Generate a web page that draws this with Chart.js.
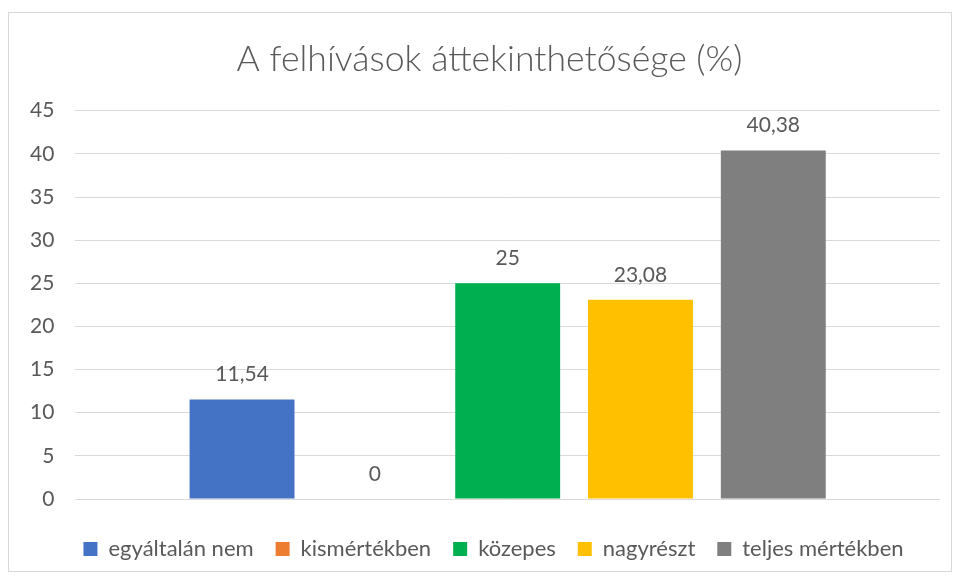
<!DOCTYPE html>
<html>
<head>
<meta charset="utf-8">
<script src="https://cdn.jsdelivr.net/npm/chart.js@4"></script>
<style>
  html, body { margin: 0; padding: 0; background: #fff; }
  #frame {
    position: absolute; left: 8px; top: 12px;
    width: 942px; height: 558px;
    border: 1px solid #D9D9D9;
  }
</style>
</head>
<body>
<div id="frame"><canvas id="chart"></canvas></div>
<script>
// answer categories (one dataset each, as in the legend)
const seriesNames = ["egyáltalán nem", "kismértékben", "közepes", "nagyrészt", "teljes mértékben"];
const seriesValues = [11.54, 0, 25, 23.08, 40.38];
const seriesColors = ["#4472C4", "#ED7D31", "#00B050", "#FFC000", "#7F7F7F"];
const yTicks = [0, 5, 10, 15, 20, 25, 30, 35, 40, 45];

const fontFamily = "Lato, 'Open Sans', sans-serif";
const textColor = "#595959";

// value labels above each bar, Hungarian decimal comma
const valueLabels = {
    id: "valueLabels",
    afterDatasetsDraw(chart) {
        const ctx = chart.ctx;
        ctx.save();
        ctx.font = "21px " + fontFamily;
        ctx.fillStyle = textColor;
        ctx.textAlign = "center";
        ctx.textBaseline = "middle";
        chart.data.datasets.forEach((ds, i) => {
            const meta = chart.getDatasetMeta(i);
            meta.data.forEach((bar, j) => {
                const txt = String(ds.data[j]).replace(".", ",");
                ctx.fillText(txt, bar.x, bar.y - 25);
            });
        });
        ctx.restore();
    }
};

// Excel centres title and legend a bit right of the canvas middle
const nudgeBoxes = {
    id: "nudgeBoxes",
    afterLayout(chart) {
        if (chart.titleBlock) {
            chart.titleBlock.left += 15;
            chart.titleBlock.right += 15;
        }
        if (chart.legend) {
            chart.legend.left += 19;
            chart.legend.right += 19;
        }
    }
};

const datasets = seriesNames.map((name, i) => ({
    label: name,
    data: [seriesValues[i]],
    backgroundColor: seriesColors[i],
    borderWidth: 0,
    categoryPercentage: 0.768,
    barPercentage: 0.79
}));

new Chart(document.getElementById("chart"), {
    type: "bar",
    data: { labels: [""], datasets: datasets },
    options: {
        responsive: true,
        maintainAspectRatio: false,
        animation: false,
        layout: { padding: { left: 0, right: 11, top: 0, bottom: 1 } },
        plugins: {
            title: {
                display: true,
                text: "A felhívások áttekinthetősége (%)",
                color: textColor,
                font: { family: fontFamily, size: 35.6, weight: "300" },
                padding: { top: 25, bottom: 30 }
            },
            legend: {
                position: "bottom",
                labels: {
                    color: textColor,
                    font: { family: fontFamily, size: 22 },
                    boxWidth: 14,
                    boxHeight: 14,
                    padding: 22
                }
            },
            tooltip: { enabled: false }
        },
        scales: {
            x: {
                ticks: { display: false },
                grid: { display: false },
                border: { display: false },
                afterFit(scale) { scale.height = 17; }
            },
            y: {
                min: 0,
                max: 45,
                afterBuildTicks(scale) {
                    scale.ticks = yTicks.map(v => ({ value: v }));
                },
                ticks: {
                    color: textColor,
                    font: { family: fontFamily, size: 21 },
                    padding: 21
                },
                grid: { color: "#D9D9D9", lineWidth: 1, drawTicks: false },
                border: { display: false }
            }
        }
    },
    plugins: [valueLabels, nudgeBoxes]
});
</script>
</body>
</html>
